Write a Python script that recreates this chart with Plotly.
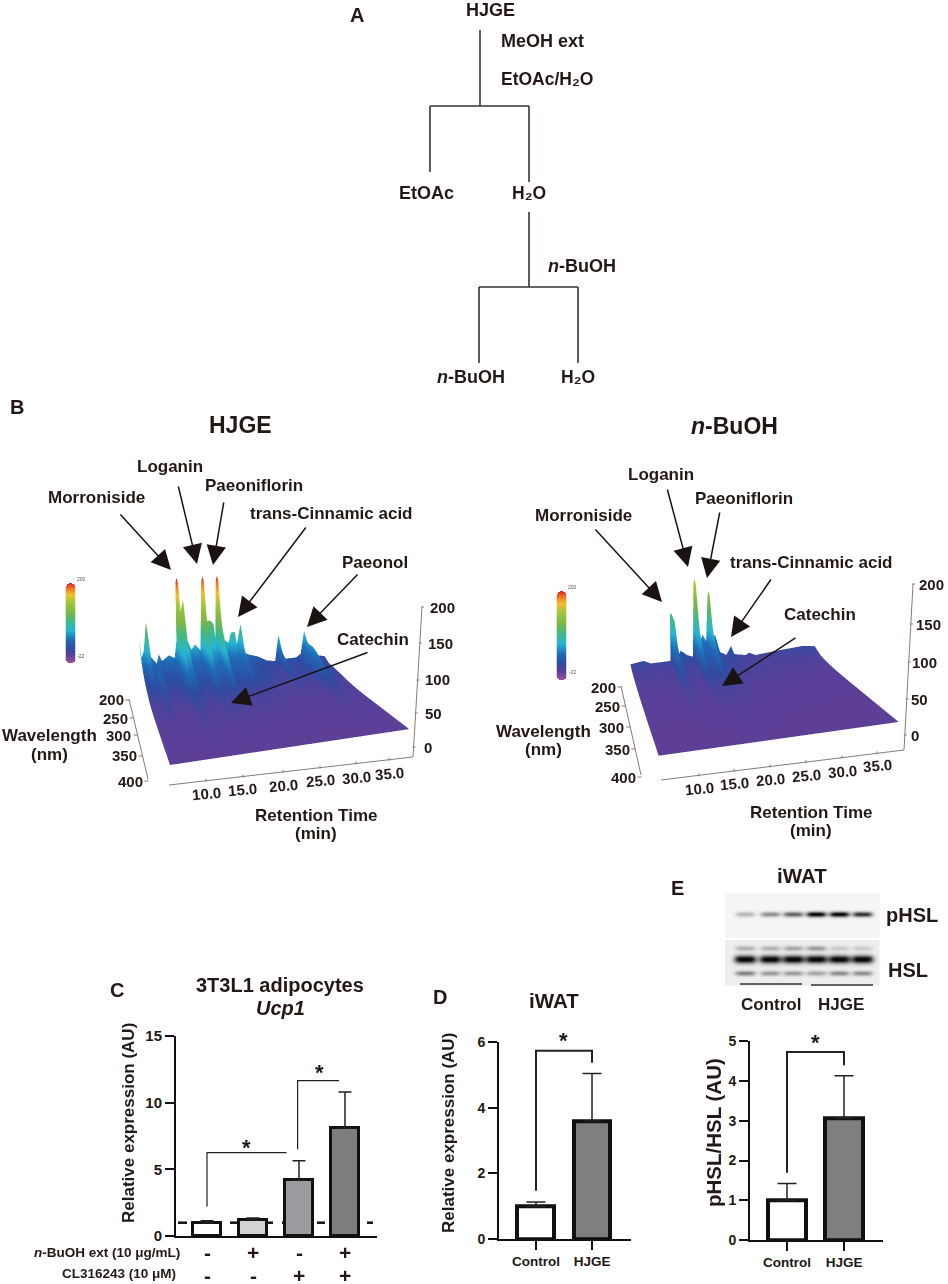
import numpy as np
import plotly.graph_objects as go

W, H = 948, 1284
INK = "#231815"
FONT = "Liberation Sans"

# ---------- data ----------
RT_HJGE = [5.0,5.3,5.7,6.2,6.3,6.4,6.8,7.7,8.1,8.6,9.8,10.7,11.1,11.3,11.5,11.7,11.9,12.3,12.4,12.5,12.9,13.6,14.2,15.1,15.5,15.7,15.9,16.2,16.9,17.4,17.7,17.9,18.1,18.3,18.7,19.3,20.0,20.4,21.1,21.4,22.0,22.1,22.2,22.6,23.5,25.2,27.0,28.5,28.9,29.0,29.1,29.4,32.4,33.3,33.7,33.8,33.9,34.2,37.8,38.0]
BACK_HJGE = [93,52,66,112,121,112,52,38,56,42,52,45,80,192,200,192,135,152,159,150,80,59,69,56,192,200,192,114,114,107,80,192,200,192,73,73,66,87,87,59,96,102,96,45,38,32,21,18,66,73,66,21,21,28,70,76,70,28,18,18]
MID_HJGE = [8,8,8,10,10,10,8,32,12,8,10,12,25,30,30,30,26,28,28,28,18,14,14,14,28,28,28,20,22,20,16,34,34,34,14,14,12,18,16,12,20,20,20,10,16,10,8,6,16,16,16,8,10,30,38,38,38,24,6,0]
RT_BUOH = [5.0,7.2,8.4,11.7,11.85,12.0,12.2,12.6,12.9,13.5,14.6,15.6,15.8,16.0,16.2,16.5,17.3,17.9,18.15,18.3,18.5,18.8,19.5,20.3,21.5,22.3,22.9,25.0,25.6,26.8,30.3,35.7,38.0]
BACK_BUOH = [14,18,12,13,98,103,98,87,15,31,21,17,152,161,152,33,58,45,130,138,130,47,55,21,14,31,14,10,14,8,12,17,14]
MID_BUOH = [2,2,2,4,14,14,14,12,5,6,4,5,16,16,16,10,16,14,20,20,20,16,12,14,6,8,4,4,6,4,2,1,0]
WAVELENGTH = [200,205,210,215,220,230,240,250,260,270,280,300,320,350,400]
BACK_WEIGHT = [1,.85,.68,.52,.4,.27,.18,.12,.08,.05,.03,.015,.01,.005,0]
MID_WEIGHT = [0,.1,.25,.45,.7,.95,1,.95,.8,.65,.5,.3,.18,.06,0]
COLOR_RANGE = [-22,200]
C_VALS = [1.0,1.2,4.2,8.1]
C_ERR = [0.15,0.15,1.45,2.7]
C_COLORS = ["#ffffff","#d2d2d2","#9b9b9f","#7d7d7d"]
C_ROW1 = ["-","+","-","+"]
C_ROW2 = ["-","-","+","+"]
D_CATS = ["Control","HJGE"]
D_VALS = [1.0,3.6]
D_ERR = [0.13,1.45]
E_VALS = [1.0,3.07]
E_ERR = [0.42,1.06]
PHSL_LANES = [.25,.42,.6,1,1,.8]
HSL_MAIN = [1,1,1,1,1,1]
HSL_UPPER = [.25,.25,.3,.35,.15,.15]
HSL_LOWER = [.45,.35,.35,.3,.4,.4]

def X(p): return p / W
def Y(p): return 1 - p / H

SY0, SY1 = 430, 880
CAM_L = [-0.764,-2.145,0.767,-0.132,-0.031,0.819,0.524,0.046]
CAM_R = [-0.759,-2.119,0.793,-0.238,-0.172,0.812,0.565,0.029]

fig = go.Figure()
shapes, anns = [], []

def text(x, y, s, size=16, anchor="center", bold=True, angle=0, color=INK):
    anns.append(dict(x=X(x), y=Y(y), xref="paper", yref="paper", text=s, showarrow=False, xanchor=anchor, yanchor="middle",
                     textangle=angle, font=dict(family=FONT, size=size, color=color, weight=700 if bold else 400)))

def line(x0, y0, x1, y1, color="#3a3130", width=1.6):
    shapes.append(dict(type="line", xref="paper", yref="paper", x0=X(x0), y0=Y(y0), x1=X(x1), y1=Y(y1),
                       line=dict(color=color, width=width)))

def arrow(tail, head):
    anns.append(dict(x=X(head[0]), y=Y(head[1]), ax=tail[0]-head[0], ay=tail[1]-head[1], xref="paper", yref="paper", axref="pixel", ayref="pixel",
                     text="", showarrow=True, arrowhead=2, arrowsize=2.6, arrowwidth=1.5, arrowcolor="#1a1311", standoff=0))

# panel A
text(357, 15, "A", 20)
text(490, 10, "HJGE", 18)
text(499, 41, "MeOH ext", 18, "left")
text(499, 79, "EtOAc/H₂O", 17.5, "left")
text(426, 193, "EtOAc", 18)
text(529, 193, "H₂O", 17.5)
text(546, 266, "<i>n</i>-BuOH", 18, "left")
text(471, 377, "<i>n</i>-BuOH", 18)
text(578, 377, "H₂O", 17.5)
for seg in [(480,30,480,106),(430,106,529,106),(430,106,430,172),(529,106,529,182),(529,212,529,287),(479,287,578,287),(479,287,479,363),(578,287,578,363)]:
    line(*seg)

# panel B
CS = [[0,"#a14a9e"],[.10,"#5a3f98"],[.19,"#2d4da3"],[.30,"#1f6fb8"],[.41,"#27b5d2"],[.52,"#3fb98a"],[.63,"#7ab648"],[.77,"#a4c639"],[.86,"#f0c030"],[.93,"#f07e24"],[1,"#e0262a"]]

def surface(rt, back, mid, scene):
    z = np.array([[b*wb + m*wm for b, m in zip(back, mid)] for wb, wm in zip(BACK_WEIGHT, MID_WEIGHT)])
    fig.add_trace(go.Surface(x=rt, y=[-w for w in WAVELENGTH], z=z, scene=scene, colorscale=CS, cmin=COLOR_RANGE[0], cmax=COLOR_RANGE[1], showscale=False,
        lighting=dict(ambient=1, diffuse=0, specular=0, fresnel=0, roughness=1),
        contours=dict(x=dict(highlight=False), y=dict(highlight=False), z=dict(highlight=False)), hoverinfo="skip"))

surface(RT_HJGE, BACK_HJGE, MID_HJGE, "scene")
surface(RT_BUOH, BACK_BUOH, MID_BUOH, "scene2")

def scene(p, x0, x1):
    ax = dict(visible=False)
    return dict(domain=dict(x=[X(x0), X(x1)], y=[Y(SY1), Y(SY0)]), bgcolor="rgba(0,0,0,0)",
                xaxis=dict(ax, range=[5,38]), yaxis=dict(ax, range=[-400,-200]), zaxis=dict(ax, range=[0,200]),
                aspectmode="manual", aspectratio=dict(x=1, y=p[5], z=p[6]),
                camera=dict(eye=dict(x=p[0], y=p[1], z=p[2]), center=dict(x=p[3], y=p[4], z=0),
                            up=dict(x=p[7],y=0,z=1), projection=dict(type="perspective")))

text(17, 407, "B", 20)
text(240, 425, "HJGE", 23)
text(734, 426, "<i>n</i>-BuOH", 23)
AXC = "#8a7a70"

def axes3d(wl, rt, zax, wtl, rtl, ztl):
    line(*wl, color=AXC, width=1); line(*rt, color=AXC, width=1); line(*zax, color=AXC, width=1)
    for s, (x, y) in zip([200,250,300,350,400], wtl):
        text(x, y, str(s), 15)
        f = (y - wl[1]) / (wl[3] - wl[1]); lx = wl[0] + f*(wl[2]-wl[0])
        line(lx-4, y, lx, y, color=AXC, width=1)
    for s, (x, y) in zip(["10.0","15.0","20.0","25.0","30.0","35.0"], rtl):
        text(x, y, s, 15, angle=-5)
        f = (x - rt[0]) / (rt[2] - rt[0]); ly = rt[1] + f*(rt[3]-rt[1])
        line(x, ly-2, x, ly+1, color=AXC, width=1)
    for s, (x, y) in zip([200,150,100,50,0], ztl):
        text(x, y, str(s), 15)
        f = (y - zax[1]) / (zax[3] - zax[1]); lx = zax[0] + f*(zax[2]-zax[0])
        line(lx-1, y, lx+2, y, color=AXC, width=1)

axes3d((129,699,148,779),(169,785,413,757),(413,757,422,607),
       [(111,700),(115,718),(118,735),(124,756),(130,781)],
       [(206,793),(243,789),(283,785),(320,780),(356,777),(389,773)],
       [(442,607),(440,643),(437,680),(433,713),(428,747)])
axes3d((621,686,641,775),(661,780,904,750),(904,750,913,584),
       [(603,687),(607,706),(611,727),(617,749),(623,777)],
       [(699,788),(734,783),(770,779),(806,775),(842,771),(877,765)],
       [(931,584),(928,624),(924,662),(919,699),(915,735)])

for x, y, s in [(170,466,"Loganin"),(96,497,"Morroniside"),(254,485,"Paeoniflorin"),(331,513,"trans-Cinnamic acid"),(375,562,"Paeonol"),(373,639,"Catechin"),
                (661,474,"Loganin"),(744,499,"Paeoniflorin"),(583,515,"Morroniside"),(811,562,"trans-Cinnamic acid"),(820,614,"Catechin")]:
    text(x, y, s, 17)
text(49, 736, "Wavelength", 17); text(49, 754, "(nm)", 17)
text(316, 815, "Retention Time", 17); text(316, 833, "(min)", 17)
text(543, 731, "Wavelength", 17); text(543, 749, "(nm)", 17)
text(811, 812, "Retention Time", 17); text(811, 830, "(min)", 17)
for t, h in [((119,513),(171,570)),((178,485),(197,564)),((224,501),(213,565)),((307,526),(238,617)),((359,573),(307,627)),((369,652),(231,703)),
             ((594,528),(662,602)),((667,488),(688,567)),((720,511),(707,578)),((772,578),(731,637)),((797,637),(722,686))]:
    arrow(t, h)

# bar panels
def axdom(x0, x1, y0, y1): return dict(x=[X(x0), X(x1)], y=[Y(y1), Y(y0)])

def bars(xa, ya, vals, errs, colors, bw, lw, capw):
    fig.add_trace(go.Bar(x=list(range(len(vals))), y=vals, width=bw, marker=dict(color=colors, line=dict(color="#111", width=lw)),
        error_y=dict(type="data", symmetric=False, array=errs, arrayminus=[0]*len(errs), color="#222", thickness=1.5, width=capw),
        xaxis=xa, yaxis=ya, showlegend=False, hoverinfo="skip"))

def bracket(xa, ya, pts, width):
    fig.add_trace(go.Scatter(x=[p[0] for p in pts], y=[p[1] for p in pts], mode="lines", line=dict(color="#222", width=width),
                             xaxis=xa, yaxis=ya, showlegend=False, hoverinfo="skip"))

bars("x","y",C_VALS,C_ERR,C_COLORS,.63,3,6.5)
bars("x2","y2",D_VALS,D_ERR,["#ffffff","#7f7f7f"],.66,4,9.5)
bars("x3","y3",E_VALS,E_ERR,["#ffffff","#7f7f7f"],.65,4,9.5)
bracket("x","y",[(0,2.2),(0,6.25),(1.73,6.25)],1.2)
bracket("x","y",[(1.97,6.5),(1.97,11.65),(2.87,11.65)],1.2)
bracket("x2","y2",[(0,1.47),(0,5.74),(1,5.74),(1,5.38)],2)
bracket("x3","y3",[(0,1.69),(0,4.73),(1,4.73),(1,4.4)],2)
for a, b in [(178,187),(230,237),(265,273),(282,285),(317,325),(367,373)]:
    line(a, 1222.7, b, 1222.7, color="#111", width=2.5)

tf = dict(family=FONT, size=15, color=INK, weight=700)
lay = dict(width=W, height=H, margin=dict(l=0,r=0,t=0,b=0,autoexpand=False), paper_bgcolor="white", plot_bgcolor="rgba(0,0,0,0)", showlegend=False, bargap=0,
    scene=scene(CAM_L, 0, 474), scene2=scene(CAM_R, 474, 948))
def yax(dom, rng, vals):
    return dict(domain=dom["y"], range=rng, tickvals=vals, showline=True, linecolor="#111", linewidth=2, ticks="outside", ticklen=9, tickwidth=2,
                tickcolor="#111", showgrid=False, zeroline=False, tickfont=tf)
dC, dD, dE = axdom(176,377,1036,1236), axdom(499,631,1042.3,1239), axdom(750,883,1041.3,1240)
lay["xaxis"] = dict(domain=dC["x"], range=[-.674,3.696], showticklabels=False, ticks="", showline=True, linecolor="#111", linewidth=2, showgrid=False, zeroline=False, anchor="y")
lay["yaxis"] = dict(yax(dC,[0,15],[0,5,10,15]), anchor="x")
for n, d, xr, yr, yv in [("2",dD,[-.66,1.696],[0,6],[0,2,4,6]),("3",dE,[-.649,1.684],[0,5],[0,1,2,3,4,5])]:
    lay["xaxis"+n] = dict(domain=d["x"], range=xr, tickvals=[0,1], ticktext=D_CATS, ticks="outside", ticklen=9, tickwidth=2, tickcolor="#111",
                          showline=True, linecolor="#111", linewidth=2, showgrid=False, zeroline=False, anchor="y"+n,
                          tickfont=dict(family=FONT, size=13.5, color=INK, weight=700))
    lay["yaxis"+n] = dict(yax(d,yr,yv), anchor="x"+n, tickfont=dict(family=FONT, size=14, color=INK, weight=700))

text(117, 990, "C", 20)
text(280, 985, "3T3L1 adipocytes", 20)
text(280, 1008, "<i>Ucp1</i>", 20)
text(128, 1123, "Relative expression (AU)", 17, angle=-90)
text(182, 1252, "<i>n</i>-BuOH ext (10 μg/mL)", 13.5, "right")
text(178, 1273, "CL316243 (10 μM)", 13.5, "right")
for i, (a, b) in enumerate(zip(C_ROW1, C_ROW2)):
    cx = 207 + 46*i
    text(cx, 1252, a, 21); text(cx, 1275, b, 21)
text(247, 1147, "*", 22); text(319, 1072, "*", 22)

text(440, 997, "D", 20); text(554, 1001, "iWAT", 20.5)
text(448, 1133, "Relative expression (AU)", 17, angle=-90)
text(563, 1040, "*", 22)
text(713, 1133, "pHSL/HSL (AU)", 20.5, angle=-90)
text(815, 1042, "*", 22)
text(677, 888, "E", 20); text(802, 875, "iWAT", 20.5)
text(912, 915, "pHSL", 20); text(908, 970, "HSL", 20)
text(771, 1004, "Control", 17); text(841, 1004, "HJGE", 17)
line(740, 984, 802, 984, color="#333", width=1.5); line(811, 985, 873, 985, color="#333", width=1.5)

# blot image
LANE_X = [745,770,793,816,839,862]
bx = np.arange(725, 880); by = np.arange(893, 986)
img = np.zeros((len(by), len(bx)))
img[by < 938] = .04; img[by >= 940] = .07
def band(cx, cy, amp, hw, hh):
    global img
    img += amp * np.exp(-((bx[None,:]-cx)/hw)**4) * np.exp(-((by[:,None]-cy)/hh)**2)
for cx, a in zip(LANE_X, PHSL_LANES): band(cx, 914, a, 10, 2.6)
for cx, m, u, l in zip(LANE_X, HSL_MAIN, HSL_UPPER, HSL_LOWER):
    band(cx, 959, m, 11, 4); band(cx, 948, u, 10, 2.5); band(cx, 973, l, 10, 2.5)
fig.add_trace(go.Heatmap(z=np.clip(img,0,1), x=bx, y=by, xaxis="x4", yaxis="y4", colorscale=[[0,"#ffffff"],[1,"#0a0a0a"]], zmin=0, zmax=1, showscale=False, hoverinfo="skip"))
dB = axdom(725,880,893,986)
lay["xaxis4"] = dict(domain=dB["x"], range=[725,880], visible=False, anchor="y4")
lay["yaxis4"] = dict(domain=dB["y"], range=[986,893], visible=False, anchor="x4")

# colour keys (pill-shaped gradient strips)
def colorkey(n, x0, x1, y0, y1, lab):
    rows, cols = int(y1-y0)*2, int(x1-x0)*2
    v = np.linspace(COLOR_RANGE[1], COLOR_RANGE[0], rows)
    z = np.tile(v[:, None], (1, cols)).astype(float)
    r = (x1-x0)
    for i in range(rows):
        for j in range(cols):
            dy = max(r-i-.5, i+.5-(rows-r), 0); dx = j+.5-cols/2
            if dx*dx + dy*dy > r*r: z[i, j] = np.nan
    fig.add_trace(go.Heatmap(z=z, xaxis="x"+n, yaxis="y"+n, colorscale=CS, zmin=COLOR_RANGE[0], zmax=COLOR_RANGE[1], showscale=False, hoverinfo="skip"))
    d = axdom(x0, x1, y0, y1)
    lay["xaxis"+n] = dict(domain=d["x"], visible=False, anchor="y"+n, range=[-.5, cols-.5])
    lay["yaxis"+n] = dict(domain=d["y"], visible=False, anchor="x"+n, range=[rows-.5, -.5])
    for (tx, ty), s in zip(lab, ["200","-22"]):
        text(tx, ty, s, 5, bold=False, color="#555")
colorkey("5", 65.5, 75.5, 583, 663, [(81,579),(80,656)])
colorkey("6", 556.5, 566.5, 591, 680, [(572,587),(572,672)])

lay["shapes"] = shapes; lay["annotations"] = anns
fig.update_layout(**lay)
fig.write_html("out.html", config=dict(displayModeBar=False), post_script="document.body.style.margin='0';")
